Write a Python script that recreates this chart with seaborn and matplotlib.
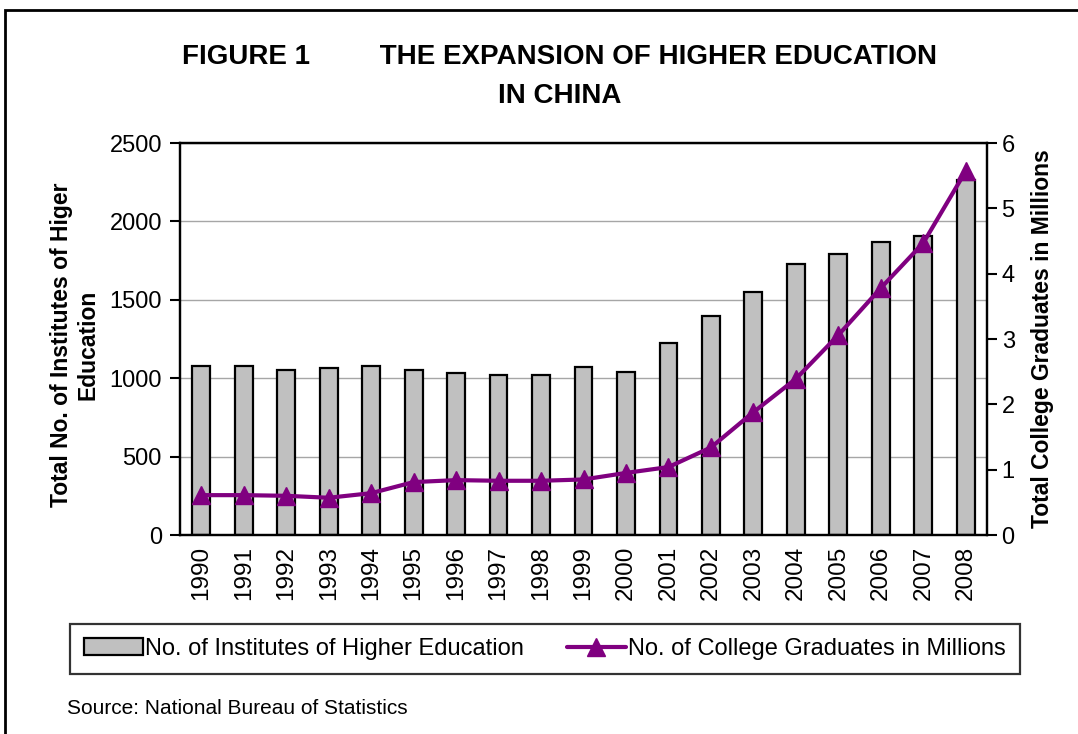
import matplotlib.pyplot as plt
import matplotlib.patches as mpatches
from matplotlib.lines import Line2D
import pandas as pd
import seaborn as sns

years = [str(y) for y in range(1990, 2009)]
institutes = [1075, 1075, 1053, 1065, 1080, 1054, 1032, 1020, 1022, 1071,
              1041, 1225, 1396, 1552, 1731, 1792, 1867, 1908, 2263]
graduates = [0.61, 0.61, 0.60, 0.57, 0.64, 0.81, 0.84, 0.83, 0.83, 0.85,
             0.95, 1.04, 1.34, 1.88, 2.39, 3.06, 3.78, 4.47, 5.57]

df = pd.DataFrame({"year": years, "institutes": institutes, "graduates": graduates})

sns.set_style("white")
plt.rcParams["font.family"] = ["Liberation Sans", "DejaVu Sans"]
plt.rcParams["text.color"] = "black"
plt.rcParams["axes.labelcolor"] = "black"
plt.rcParams["xtick.color"] = "black"
plt.rcParams["ytick.color"] = "black"

fig = plt.figure(figsize=(10.78, 7.34), dpi=100)
ax = fig.add_axes([180 / 1078, 1 - 535 / 734, 807 / 1078, 392 / 734])

sns.barplot(data=df, x="year", y="institutes", ax=ax, color="#C0C0C0",
            edgecolor="black", linewidth=1.6, width=0.42, saturation=1)
ax.set_ylim(0, 2500)
ax.set_xlim(-0.5, len(years) - 0.5)
ax.set_yticks(range(0, 2501, 500))
ax.yaxis.grid(True, color="#A6A6A6", linewidth=1)
ax.set_axisbelow(True)
ax.set_xlabel("")
ax.set_ylabel("Total No. of Institutes of Higer\nEducation", fontsize=16.5,
              fontweight="bold")
ax.yaxis.set_label_coords(-0.1, 0.485)
ax.set_xticks([i - 0.5 for i in range(len(years) + 1)], minor=False)
ax.set_xticklabels([])
ax.set_xticks(range(len(years)), minor=True)
ax.set_xticklabels(years, minor=True, rotation=90, fontsize=17.5)
ax.tick_params(axis="x", which="minor", length=0, pad=8)
ax.tick_params(axis="x", which="major", direction="out", length=7, width=1.5, color="black")
ax.tick_params(axis="y", direction="out", length=7, width=1.5, color="black",
               labelsize=17, pad=6, left=True)
for s in ax.spines.values():
    s.set_color("black")
    s.set_linewidth(1.6)

ax2 = ax.twinx()
ax2.plot(range(len(years)), graduates, color="#800080", linewidth=3,
         marker="^", markersize=13)
ax2.set_ylim(0, 6)
ax2.set_yticks(range(0, 7))
ax2.set_ylabel("Total College Graduates in Millions", fontsize=16.5,
               fontweight="bold", labelpad=12)
ax2.tick_params(axis="y", direction="out", length=7, width=1.5, color="black",
                labelsize=17, right=True)
for s in ax2.spines.values():
    s.set_color("black")
    s.set_linewidth(1.6)

fig.text(560 / 1078, 1 - 57 / 734, "FIGURE 1         THE EXPANSION OF HIGHER EDUCATION",
         ha="center", va="center", fontsize=20, fontweight="bold")
fig.text(560 / 1078, 1 - 96 / 734, "IN CHINA",
         ha="center", va="center", fontsize=20, fontweight="bold")

handles = [mpatches.Patch(facecolor="#C0C0C0", edgecolor="black", linewidth=1.6),
           Line2D([0], [0], color="#800080", linewidth=3, marker="^", markersize=13)]
labels = ["No. of Institutes of Higher Education", "No. of College Graduates in Millions"]
leg = fig.legend(handles, labels, loc="center", ncol=2, fontsize=17,
                 bbox_to_anchor=(545 / 1078, 1 - 649 / 734), frameon=True,
                 fancybox=False, edgecolor="black", handlelength=2.5,
                 handletextpad=0.1, columnspacing=1.8, borderpad=0.6)
leg.get_frame().set_linewidth(1.6)

fig.text(67 / 1078, 1 - 708 / 734, "Source: National Bureau of Statistics",
         ha="left", va="center", fontsize=15)

fig.add_artist(mpatches.Rectangle((5 / 1078, -0.1), 1.2, 1.1 - 10 / 734,
                                  transform=fig.transFigure, fill=False,
                                  edgecolor="black", linewidth=2, clip_on=False))

fig.savefig("out.png", dpi=100)
